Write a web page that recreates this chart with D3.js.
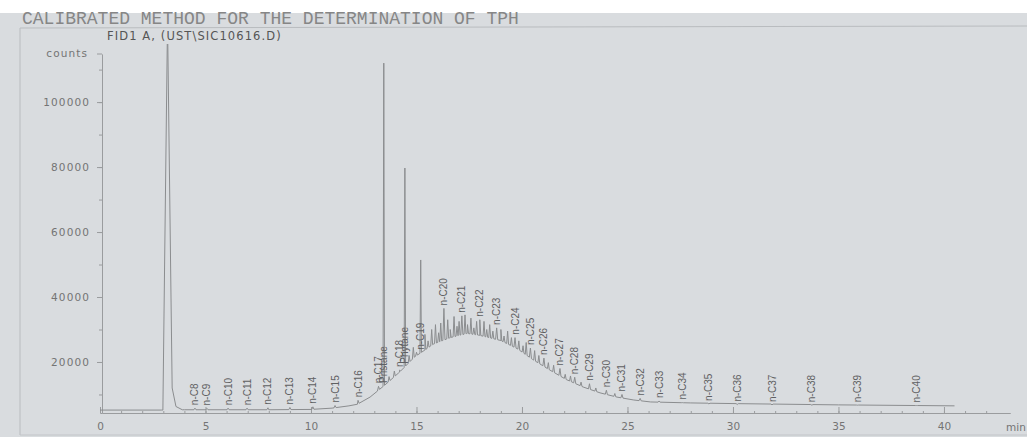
<!DOCTYPE html>
<html>
<head>
<meta charset="utf-8">
<script src="https://cdn.jsdelivr.net/npm/d3@7"></script>
<style>
  body { margin: 0; background: #d9dcdf; }
  svg { display: block; }
</style>
</head>
<body>
<div id="chart"></div>
<script>
// chromatogram values (time in min, signal in counts)
const humpTimes = [0, 2.9, 4, 8, 10, 11, 11.8, 12.2, 12.8, 13.5, 14.2, 14.9, 15.4, 15.8, 16.6, 17.4, 18.0, 19.0, 19.8, 20.5, 21.3, 22.1, 22.9, 23.7, 24.5, 25.3, 26.1, 28, 30, 35, 40.5];
const humpCounts = [5200, 5200, 5300, 5300, 5400, 5800, 6500, 7000, 9200, 12900, 16900, 21500, 23700, 25500, 27500, 28800, 28200, 26600, 24000, 20800, 17600, 14600, 12300, 10500, 9200, 8300, 7700, 7400, 7200, 6800, 6500];

// solvent peak (goes off scale)
const solventTimes = [2.98, 3.2, 3.42, 3.6, 3.9];
const solventCounts = [5200, 125000, 12000, 6300, 5300];

const peakNames = ['n-C8', 'n-C9', 'n-C10', 'n-C11', 'n-C12', 'n-C13', 'n-C14', 'n-C15', 'n-C16',
  'n-C17', 'Pristane', 'n-C18', 'Phytane', 'n-C19', 'n-C20', 'n-C21', 'n-C22', 'n-C23', 'n-C24',
  'n-C25', 'n-C26', 'n-C27', 'n-C28', 'n-C29', 'n-C30', 'n-C31', 'n-C32', 'n-C33', 'n-C34',
  'n-C35', 'n-C36', 'n-C37', 'n-C38', 'n-C39', 'n-C40'];
const peakTimes = [4.5, 5.07, 6.07, 6.97, 7.96, 9.0, 10.09, 11.14, 12.23,
  13.2, 13.45, 14.2, 14.45, 15.2, 16.3, 17.15, 18.0, 18.8, 19.67,
  20.4, 21.04, 21.8, 22.5, 23.2, 24.0, 24.74, 25.6, 26.5, 27.6,
  28.86, 30.2, 31.85, 33.74, 35.9, 38.7];
const peakCounts = [5800, 5700, 5800, 5800, 5900, 6000, 6200, 6600, 8200,
  12500, 112000, 17500, 79700, 51400, 36500, 34200, 33000, 30500, 27500,
  24300, 21200, 18000, 15300, 13300, 11300, 10000, 8800, 8000, 7500,
  7100, 6900, 6800, 6700, 6700, 6600];

// unlabelled peaks riding on the hump
const minorTimes = [13.7, 13.95, 14.65, 14.85, 15.0, 15.4, 15.55, 15.72, 15.9, 16.05, 16.15, 16.48, 16.6, 16.78, 16.92, 17.02,
  17.3, 17.42, 17.58, 17.72, 17.85, 18.2, 18.33, 18.47, 18.62, 19.0, 19.15, 19.32, 19.5, 19.85, 20.05, 20.2, 20.6, 20.8,
  21.25, 21.5, 22.05, 22.3, 22.8, 23.5, 24.4];
const minorCounts = [15500, 17200, 22000, 24500, 23000, 28500, 26500, 30000, 31500, 29000, 32000, 33000, 30000, 34000, 31000, 32500,
  34500, 31500, 33500, 30500, 32500, 32500, 30000, 31500, 29500, 30000, 28000, 29500, 27500, 26500, 25000, 26000, 23500, 22000,
  19800, 19000, 16200, 15700, 13800, 12000, 10300];

const xMajorTicks = [0, 5, 10, 15, 20, 25, 30, 35, 40];
const yMajorTicks = [20000, 40000, 60000, 80000, 100000];
const yTopCount = 114800;

const width = 1027;
const height = 437;

const svg = d3.select('#chart')
  .append('svg')
  .attr('width', width)
  .attr('height', height);

svg.append('rect').attr('width', width).attr('height', 13).attr('fill', '#ffffff');

// printout frame
svg.append('path')
  .attr('d', 'M20,435 L20,28 L1027,26')
  .attr('fill', 'none')
  .attr('stroke', '#b9bcbf');
svg.append('line')
  .attr('x1', 20).attr('x2', 1027).attr('y1', 435).attr('y2', 435)
  .attr('stroke', '#c2c5c8');

svg.append('text')
  .attr('x', 22).attr('y', 24)
  .attr('font-family', 'Liberation Mono, Courier New, monospace')
  .attr('font-size', 18)
  .attr('fill', '#868686')
  .text('CALIBRATED METHOD FOR THE DETERMINATION OF TPH');

svg.append('text')
  .attr('x', 107).attr('y', 39.5)
  .attr('font-family', 'DejaVu Sans, sans-serif')
  .attr('font-size', 11.5)
  .attr('letter-spacing', 1.1)
  .attr('fill', '#555')
  .text('FID1 A, (UST\\SIC10616.D)');

const xScale = d3.scaleLinear().domain([0, 43.13]).range([100, 1010]);
const yScale = d3.scaleLinear().domain([4300, yTopCount]).range([413, 54]);

const hump = d3.scaleLinear().domain(humpTimes).range(humpCounts).clamp(true);

// build the trace: hump + solvent peak + narrow peaks
let pts = humpTimes
  .map((t, i) => [t, humpCounts[i]])
  .filter(([t]) => t < solventTimes[0] || t > solventTimes[solventTimes.length - 1]);
solventTimes.forEach((t, i) => pts.push([t, solventCounts[i]]));

function addPeak(t, c, w) {
  pts.push([t - w, hump(t - w)]);
  pts.push([t, c]);
  pts.push([t + w, hump(t + w)]);
}
peakTimes.forEach((t, i) => addPeak(t, peakCounts[i], peakCounts[i] - hump(t) > 12000 ? 0.035 : 0.05));
minorTimes.forEach((t, i) => addPeak(t, minorCounts[i], 0.045));
pts = d3.sort(pts, (d) => d[0]);

svg.append('clipPath').attr('id', 'plot-clip')
  .append('rect').attr('x', 100).attr('y', 44).attr('width', 912).attr('height', 380);

// axes
const xAxis = svg.append('g')
  .attr('transform', `translate(0, 413)`)
  .call(d3.axisBottom(xScale).tickValues(xMajorTicks).tickSize(-6).tickPadding(10).tickSizeOuter(0));
xAxis.append('g').call(d3.axisBottom(xScale).tickValues(d3.range(1, 43)).tickSize(-2).tickFormat('').tickSizeOuter(0));

const yAxis = svg.append('g')
  .attr('transform', `translate(102, 0)`)
  .call(d3.axisLeft(yScale).tickValues(yMajorTicks).tickSize(5).tickPadding(7).tickFormat(d3.format('d')).tickSizeOuter(0));
yAxis.append('g').call(d3.axisLeft(yScale).tickValues(d3.range(10000, 115000, 10000)).tickSize(3).tickFormat('').tickSizeOuter(0));
yAxis.append('line').attr('x1', 0).attr('x2', -5).attr('y1', yScale(yTopCount)).attr('y2', yScale(yTopCount));
yAxis.append('text')
  .attr('x', -14).attr('y', yScale(yTopCount)).attr('dy', '0.32em')
  .attr('text-anchor', 'end')
  .text('counts');

svg.selectAll('.domain, .tick line, g > line').attr('stroke', '#9a9c9e');
yAxis.select('.domain').attr('stroke', '#bfc1c3');
xAxis.selectAll('text').attr('font-size', 10.5);
yAxis.selectAll('text')
  .attr('font-size', 10.5)
  .attr('letter-spacing', 1.1);
svg.selectAll('.tick text, g > text')
  .attr('font-family', 'DejaVu Sans, sans-serif')
  .attr('fill', '#747474');

svg.append('text')
  .attr('x', 1016).attr('y', 431)
  .attr('text-anchor', 'middle')
  .attr('font-family', 'DejaVu Sans, sans-serif')
  .attr('font-size', 10.5)
  .attr('fill', '#747474')
  .text('min');

// signal
const line = d3.line()
  .x((d) => xScale(d[0]))
  .y((d) => yScale(d[1]));

svg.append('path')
  .datum(pts)
  .attr('clip-path', 'url(#plot-clip)')
  .attr('d', line)
  .attr('fill', 'none')
  .attr('stroke', '#8b8d8f')
  .attr('stroke-width', 1);

// peak names, drawn at the peak top (or at the hump for the big spikes)
svg.append('g')
  .selectAll('text')
  .data(peakNames)
  .join('text')
  .attr('transform', (d, i) => {
    const t = peakTimes[i];
    const c = peakCounts[i] - hump(t) > 12000 ? hump(t) : peakCounts[i];
    return `translate(${xScale(t) + 3.5}, ${yScale(c) - 3}) rotate(-90)`;
  })
  .attr('font-family', 'Liberation Sans, Arial, sans-serif')
  .attr('font-size', 10)
  .attr('fill', '#5f6062')
  .text((d) => d);
</script>
</body>
</html>
